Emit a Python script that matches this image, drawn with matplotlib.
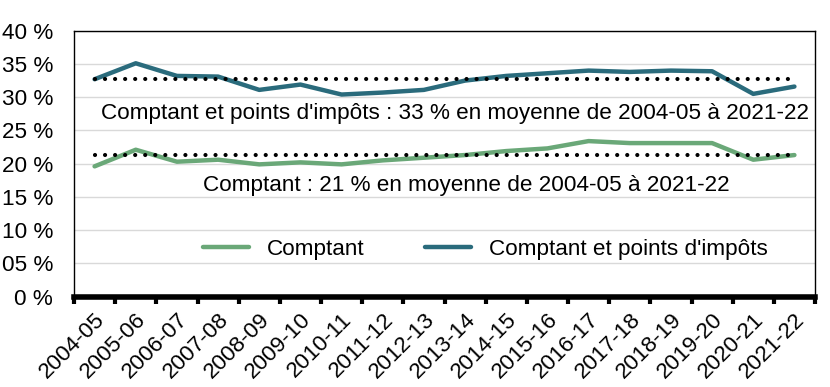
import matplotlib
matplotlib.use("Agg")
import matplotlib.pyplot as plt
import numpy as np

plt.rcParams['font.family'] = ['Liberation Sans', 'DejaVu Sans']

categories = ["2004-05", "2005-06", "2006-07", "2007-08", "2008-09", "2009-10",
              "2010-11", "2011-12", "2012-13", "2013-14", "2014-15", "2015-16",
              "2016-17", "2017-18", "2018-19", "2019-20", "2020-21", "2021-22"]
comptant = [19.6, 22.1, 20.3, 20.6, 19.9, 20.2, 19.9, 20.5, 20.9, 21.3, 21.9, 22.3,
            23.4, 23.1, 23.1, 23.1, 20.6, 21.3]
comptant_points = [32.7, 35.1, 33.2, 33.1, 31.1, 31.9, 30.4, 30.7, 31.1, 32.5, 33.2, 33.6,
                   34.0, 33.8, 34.0, 33.9, 30.5, 31.6]
moy_comptant = 21.3
moy_points = 32.8
yticks = [0, 5, 10, 15, 20, 25, 30, 35, 40]
ytick_labels = ["0 %", "05 %", "10 %", "15 %", "20 %", "25 %", "30 %", "35 %", "40 %"]
label_comptant = "Comptant"
label_points = "Comptant et points d'impôts"
note_points = "Comptant et points d'impôts : 33 % en moyenne de 2004-05 à 2021-22"
note_comptant = "Comptant : 21 % en moyenne de 2004-05 à 2021-22"

green = "#6aa878"
teal = "#2a6b7c"
fs = 16.2

fig = plt.figure(figsize=(8.3, 3.87), dpi=100)
ax = fig.add_axes([74/830, 1-296.7/387, (815-74)/830, (296.7-30.7)/387])

x = np.arange(len(categories))
ax.plot(x, comptant, color=green, lw=3.2, solid_capstyle='round', solid_joinstyle='round',
        label=label_comptant, zorder=3)
ax.plot(x, comptant_points, color=teal, lw=3.2, solid_capstyle='round', solid_joinstyle='round',
        label=label_points, zorder=3)

dot_lw = 3.0
dot_style = (0, (0.01, 10 / (dot_lw * 100 / 72)))
ax.plot([x[0], x[-1]], [moy_points, moy_points], color='black', lw=dot_lw,
        linestyle=dot_style, dash_capstyle='round', zorder=4)
ax.plot([x[0], x[-1]], [moy_comptant, moy_comptant], color='black', lw=dot_lw,
        linestyle=dot_style, dash_capstyle='round', zorder=4)

ax.text(454.5/830, 1-113.5/387, note_points, transform=fig.transFigure,
        ha='center', va='center', fontsize=fs, color='black')
ax.text(466/830, 1-186/387, note_comptant, transform=fig.transFigure,
        ha='center', va='center', fontsize=fs, color='black')

ax.set_xlim(-0.5, len(categories) - 0.5)
ax.set_ylim(0, 40)
ax.set_yticks(yticks)
ax.set_yticklabels(ytick_labels, fontsize=fs)
ax.tick_params(axis='y', length=0, pad=15)
ax.yaxis.grid(True, color='#d9d9d9', lw=1)
ax.set_axisbelow(True)

ax.set_xticks(x)
ax.set_xticklabels(categories, rotation=45, ha='right', va='top',
                   rotation_mode='anchor', fontsize=fs)
ax.tick_params(axis='x', which='major', length=0, pad=9)
ax.set_xticks(np.arange(-0.5, len(categories)), minor=True)
ax.tick_params(axis='x', which='minor', length=5, width=3, color='black', direction='out')

for s in ['top', 'right', 'left']:
    ax.spines[s].set_linewidth(1)
    ax.spines[s].set_color('black')
ax.spines['bottom'].set_linewidth(4)
ax.spines['bottom'].set_color('black')

leg = ax.legend(loc='center', bbox_to_anchor=(485.5/830, 1-249/387), bbox_transform=fig.transFigure,
                ncol=2, frameon=False, fontsize=fs, handlelength=2.05, handletextpad=0.8,
                columnspacing=2.7)

fig.savefig("out.png", dpi=100)
